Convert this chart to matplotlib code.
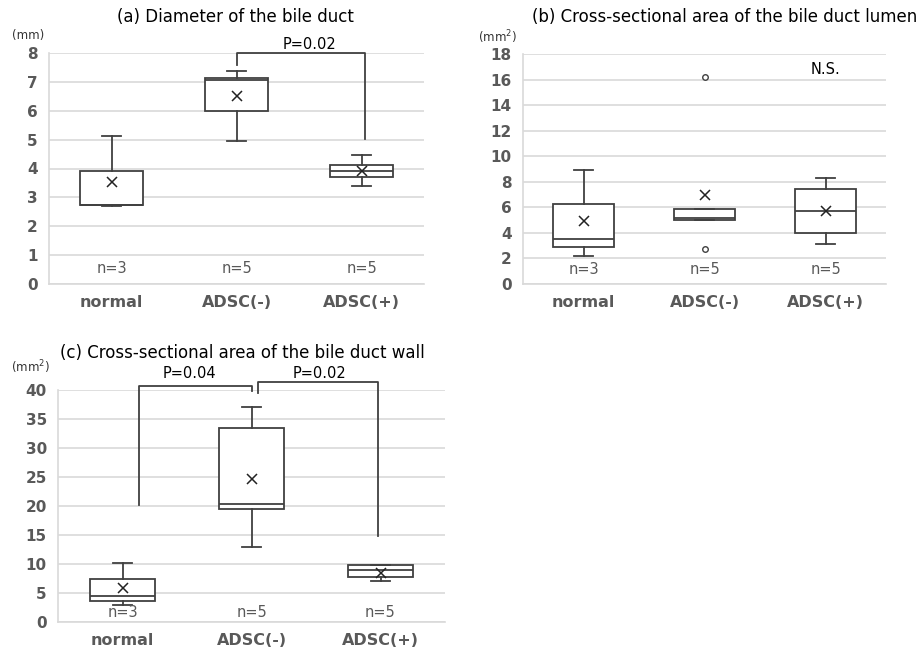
# Bile duct box plots: diameter, lumen area, wall area

import matplotlib
matplotlib.use('Agg')
import matplotlib.pyplot as plt

groups = ['normal', 'ADSC(-)', 'ADSC(+)']
n_labels = ['n=3', 'n=5', 'n=5']

# box statistics: (whislo, q1, med, q3, whishi, mean)
diam_stats = [(2.70, 2.75, 2.75, 3.93, 5.13, 3.52),
              (4.95, 6.00, 7.05, 7.15, 7.38, 6.50),
              (3.40, 3.70, 3.90, 4.13, 4.47, 3.93)]
diam_fliers = [[], [], []]

lumen_stats = [(2.21, 2.89, 3.54, 6.25, 8.93, 4.95),
               (4.97, 4.97, 5.20, 5.86, 5.86, 6.98),
               (3.15, 3.98, 5.68, 7.45, 8.33, 5.73)]
lumen_fliers = [[], [16.17, 2.73], []]

wall_stats = [(3.0, 3.6, 4.4, 7.35, 10.1, 5.9),
              (13.0, 19.4, 20.4, 33.4, 37.06, 24.6),
              (7.0, 7.7, 9.0, 9.8, 9.8, 8.5)]
wall_fliers = [[], [], []]

grid_c = '#d9d9d9'
box_c = '#404040'
tick_c = '#595959'


def make_stats(stats, fliers):
    out = []
    for (lo, q1, med, q3, hi, mean), fl in zip(stats, fliers):
        out.append(dict(whislo=lo, q1=q1, med=med, q3=q3, whishi=hi,
                        mean=mean, fliers=fl))
    return out


def panel(rect, stats, fliers, ymax, ystep, title, unit, n_y, title_xy, unit_xy):
    ax = fig.add_axes(rect)
    lp = dict(color=box_c, linewidth=1.3)
    ax.bxp(make_stats(stats, fliers), positions=range(3), widths=0.5,
           showmeans=True, patch_artist=True,
           boxprops=dict(facecolor='white', edgecolor=box_c, linewidth=1.3),
           medianprops=lp, whiskerprops=lp, capprops=lp, capwidths=0.15,
           meanprops=dict(marker='x', markeredgecolor='#222222', markersize=6.5,
                          markeredgewidth=1.1),
           flierprops=dict(marker='o', markersize=4, markerfacecolor='white',
                           markeredgecolor=box_c, markeredgewidth=1.0),
           zorder=3)
    ax.set_xlim(-0.5, 2.5)
    ax.set_ylim(0, ymax)
    ax.set_yticks(range(0, ymax + 1, ystep))
    ax.yaxis.grid(True, color=grid_c, linewidth=1.2, zorder=0)
    ax.set_axisbelow(True)
    for s in ['top', 'right']:
        ax.spines[s].set_visible(False)
    for s in ['left', 'bottom']:
        ax.spines[s].set_color(grid_c)
        ax.spines[s].set_linewidth(1.2)
    ax.tick_params(length=0, pad=8, colors=tick_c)
    ax.set_xticks(range(3))
    ax.set_xticklabels(groups, fontsize=11.5, fontweight='bold', color=tick_c)
    for lab in ax.get_yticklabels():
        lab.set_fontsize(11)
        lab.set_fontweight('bold')
    for i, t in enumerate(n_labels):
        ax.text(i, n_y, t, ha='center', va='center', fontsize=10.5, color=tick_c)
    fig.text(title_xy[0] / 921, 1 - title_xy[1] / 651, title, ha='center',
             va='center', fontsize=12)
    fig.text(unit_xy[0] / 921, 1 - unit_xy[1] / 651, unit, ha='center',
             va='center', fontsize=8.5, color='#333333')
    return ax


fig = plt.figure(figsize=(9.21, 6.51), dpi=100)

# (a)
ax = panel([49 / 921, 1 - 284 / 651, 375 / 921, 231 / 651], diam_stats, diam_fliers,
           8, 1, '(a) Diameter of the bile duct', '(mm)', 0.55, (235, 17), (28, 35))
ax.plot([1, 1, 2.03, 2.03], [7.6, 8.0, 8.0, 5.02], color=box_c, lw=1.3, clip_on=False)
ax.text(1.58, 8.05, 'P=0.02', ha='center', va='bottom', fontsize=10.5)

# (b)
ax = panel([523 / 921, 1 - 284 / 651, 363 / 921, 230 / 651], lumen_stats, lumen_fliers,
           18, 2, '(b) Cross-sectional area of the bile duct lumen', '(mm$^2$)', 1.17,
           (725, 17), (497, 37))
ax.text(2.0, 16.8, 'N.S.', ha='center', va='center', fontsize=10.5)

# (c)
ax = panel([58 / 921, 1 - 622 / 651, 387 / 921, 232 / 651], wall_stats, wall_fliers,
           40, 5, '(c) Cross-sectional area of the bile duct wall', '(mm$^2$)', 1.7,
           (242, 353), (30, 367))
ax.plot([0.13, 0.13, 1.0, 1.0], [20.1, 40.75, 40.75, 39.8], color=box_c, lw=1.3,
        clip_on=False)
ax.plot([1.05, 1.05, 1.98, 1.98], [39.5, 41.4, 41.4, 14.8], color=box_c, lw=1.3,
        clip_on=False)
ax.text(0.52, 41.5, 'P=0.04', ha='center', va='bottom', fontsize=10.5)
ax.text(1.53, 41.5, 'P=0.02', ha='center', va='bottom', fontsize=10.5)

fig.savefig('out.png', dpi=100, facecolor='white')
